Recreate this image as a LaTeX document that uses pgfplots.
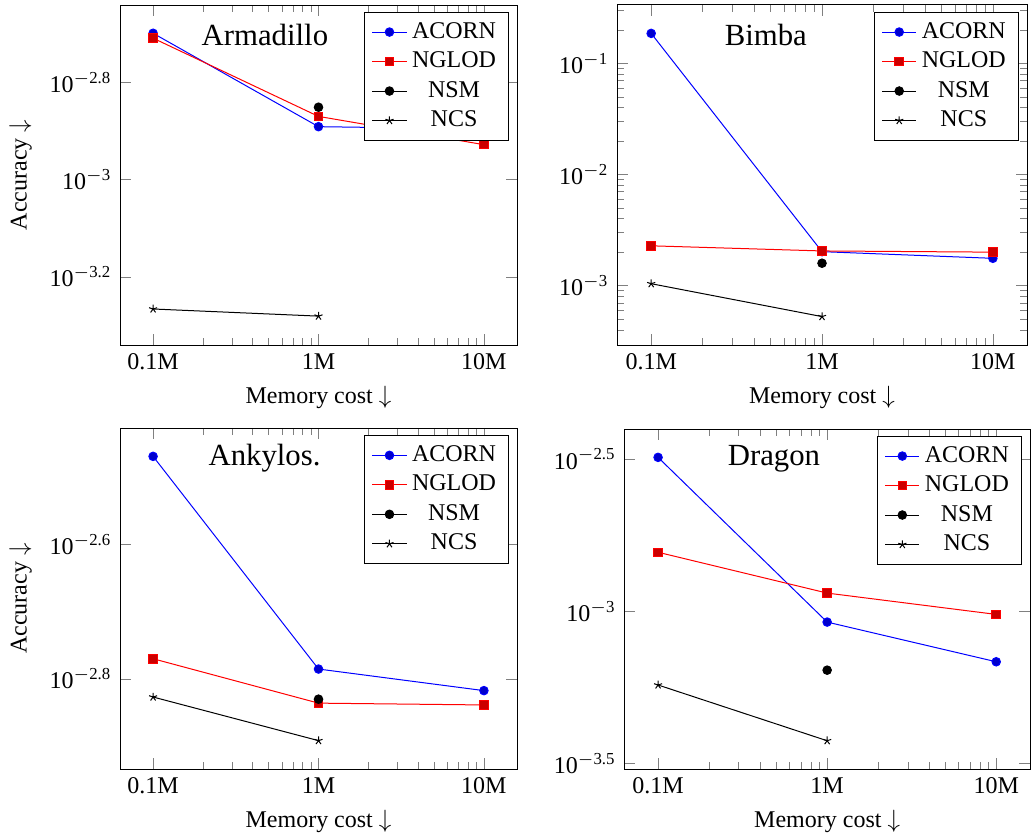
\documentclass[border=0pt]{standalone}
\usepackage{fontspec}
\setmainfont{Liberation Serif}
\usepackage{pgfplots}
\pgfplotsset{compat=1.18}
\pgfplotsset{
  every axis plot/.append style={mark size=1.7pt},
  legend image code/.code={\draw[mark repeat=2,mark phase=2,#1] plot coordinates {(0cm,0cm) (0.24cm,0cm) (0.48cm,0cm)};},
}
\newcommand{\tl}[1]{10\textsuperscript{$-$#1}}
\begin{document}
\fontsize{9.6}{11.5}\selectfont
\begin{tikzpicture}
\useasboundingbox (0pt,0pt) rectangle (412.4pt,334.8pt);
% Armadillo
\begin{axis}[xmode=log, ymode=log, scale only axis,
  xmin=63095.7, xmax=1.58489e7,
  xtick={1e5,1e6,1e7}, xticklabels={0.1M,1M,10M},
  xlabel={Memory cost $\downarrow$},
  legend cell align=center,
  anchor=south west, at={(48pt,196.8pt)}, width=158.8pt, height=136pt,
  ymin=4.57e-4, ymax=2.286e-3,
  ytick={1.58489e-3,1e-3,6.30957e-4},
  yticklabels={\tl{2.8},\tl{3},\tl{3.2}},
  ylabel={Accuracy $\downarrow$}, ylabel shift=0.5pt]
\addplot coordinates {(1e5,2.0e-3) (1e6,1.285e-3) (1e7,1.271e-3)};
\addplot coordinates {(1e5,1.954e-3) (1e6,1.349e-3) (1e7,1.180e-3)};
\addplot[black, mark=*] coordinates {(1e6,1.409e-3)};
\addplot[black, mark=star] coordinates {(1e5,5.42e-4) (1e6,5.24e-4)};
\node[anchor=base, font=\fontsize{12.3}{14}\selectfont] at (rel axis cs:0.365,0.882) {Armadillo};
\legend{ACORN,NGLOD,NSM,NCS}
\end{axis}
% Bimba
\begin{axis}[xmode=log, ymode=log, scale only axis,
  xmin=63095.7, xmax=1.58489e7,
  xtick={1e5,1e6,1e7}, xticklabels={0.1M,1M,10M},
  xlabel={Memory cost $\downarrow$},
  legend cell align=center,
  minor xtick={2e5,3e5,4e5,5e5,6e5,7e5,8e5,9e5,2e6,3e6,4e6,5e6,6e6,7e6,8e6,9e6},
  anchor=south west, at={(246.8pt,196.8pt)}, width=164pt, height=136pt,
  ymin=2.92e-4, ymax=0.335,
  ytick={1e-1,1e-2,1e-3},
  yticklabels={\tl{1},\tl{2},\tl{3}},
  minor ytick={4e-4,5e-4,6e-4,7e-4,8e-4,9e-4,2e-3,3e-3,4e-3,5e-3,6e-3,7e-3,8e-3,9e-3,2e-2,3e-2,4e-2,5e-2,6e-2,7e-2,8e-2,9e-2,2e-1,3e-1}]
\addplot coordinates {(1e5,0.186) (1e6,2.02e-3) (1e7,1.76e-3)};
\addplot coordinates {(1e5,2.28e-3) (1e6,2.05e-3) (1e7,2.0e-3)};
\addplot[black, mark=*] coordinates {(1e6,1.59e-3)};
\addplot[black, mark=star] coordinates {(1e5,1.04e-3) (1e6,5.26e-4)};
\node[anchor=base, font=\fontsize{12.3}{14}\selectfont] at (rel axis cs:0.363,0.882) {Bimba};
\legend{ACORN,NGLOD,NSM,NCS}
\end{axis}
% Ankylos
\begin{axis}[xmode=log, ymode=log, scale only axis,
  xmin=63095.7, xmax=1.58489e7,
  xtick={1e5,1e6,1e7}, xticklabels={0.1M,1M,10M},
  xlabel={Memory cost $\downarrow$},
  legend cell align=center,
  minor xtick={2e5,3e5,4e5,5e5,6e5,7e5,8e5,9e5,2e6,3e6,4e6,5e6,6e6,7e6,8e6,9e6},
  anchor=south west, at={(48pt,27.2pt)}, width=158.8pt, height=136.3pt,
  ymin=1.163e-3, ymax=3.744e-3,
  ytick={2.51189e-3,1.58489e-3},
  yticklabels={\tl{2.6},\tl{2.8}},
  ylabel={Accuracy $\downarrow$}, ylabel shift=0.5pt]
\addplot coordinates {(1e5,3.40e-3) (1e6,1.639e-3) (1e7,1.522e-3)};
\addplot coordinates {(1e5,1.698e-3) (1e6,1.458e-3) (1e7,1.449e-3)};
\addplot[black, mark=*] coordinates {(1e6,1.478e-3)};
\addplot[black, mark=star] coordinates {(1e5,1.489e-3) (1e6,1.282e-3)};
\node[anchor=base, font=\fontsize{12.3}{14}\selectfont] at (rel axis cs:0.364,0.892) {Ankylos.};
\legend{ACORN,NGLOD,NSM,NCS}
\end{axis}
% Dragon
\begin{axis}[xmode=log, ymode=log, scale only axis,
  xmin=63095.7, xmax=1.58489e7,
  xtick={1e5,1e6,1e7}, xticklabels={0.1M,1M,10M},
  xlabel={Memory cost $\downarrow$},
  legend cell align=center,
  minor xtick={2e5,3e5,4e5,5e5,6e5,7e5,8e5,9e5,2e6,3e6,4e6,5e6,6e6,7e6,8e6,9e6},
  anchor=south west, at={(249.7pt,27.2pt)}, width=162.3pt, height=136pt,
  ymin=3.036e-4, ymax=3.969e-3,
  ytick={3.16228e-3,1e-3,3.16228e-4},
  yticklabels={\tl{2.5},\tl{3},\tl{3.5}}]
\addplot coordinates {(1e5,3.203e-3) (1e6,9.22e-4) (1e7,6.83e-4)};
\addplot coordinates {(1e5,1.563e-3) (1e6,1.148e-3) (1e7,9.77e-4)};
\addplot[black, mark=*] coordinates {(1e6,6.41e-4)};
\addplot[black, mark=star] coordinates {(1e5,5.73e-4) (1e6,3.76e-4)};
\node[anchor=base, font=\fontsize{12.3}{14}\selectfont] at (rel axis cs:0.369,0.894) {Dragon};
\legend{ACORN,NGLOD,NSM,NCS}
\end{axis}
\end{tikzpicture}
\end{document}
